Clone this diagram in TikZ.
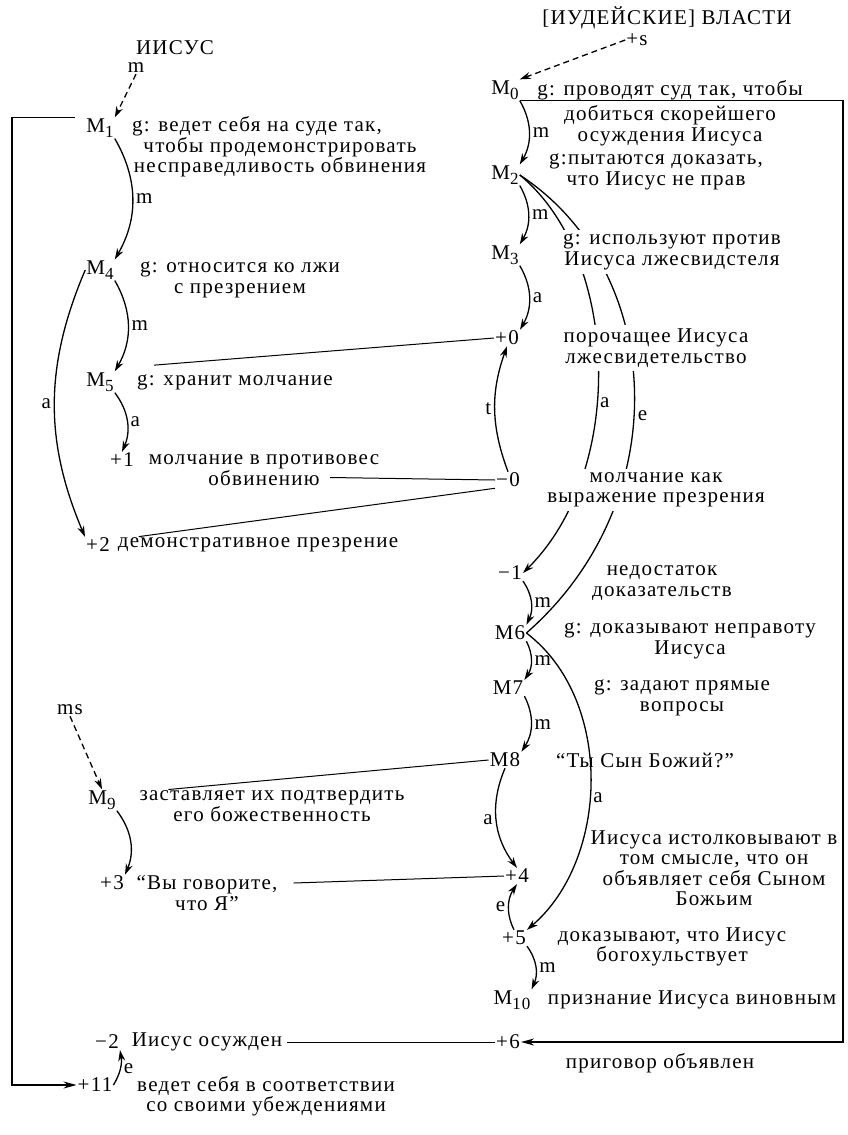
\documentclass[tikz,border=0pt]{standalone}
\usepackage{fontspec}
\setmainfont{Liberation Serif}[LetterSpace=6]
\usetikzlibrary{positioning, arrows.meta}
\newcommand{\mst}[1]{M\raisebox{-5pt}{\fontsize{17}{17}\selectfont #1}}

\begin{document}
\begin{tikzpicture}[x=1pt, y=-1pt,
    every node/.style={font=\fontsize{21}{20.5}\selectfont, inner sep=1pt},
    txt/.style={align=center},
    wtxt/.style={align=center, fill=white, inner sep=4pt},
    lbl/.style={inner sep=3pt},
    arr/.style={-{Stealth[length=11pt, width=7pt]}, line width=1.3pt},
    darr/.style={arr, dash pattern=on 6pt off 4pt},
    link/.style={line width=1pt},
    frame/.style={-{Stealth[length=13pt, width=7pt]}, line width=1.4pt}
  ]
  \useasboundingbox (0,0) rectangle (847,1135);

  % headers
  \node (hJ) at (175,48) {ИИСУС};
  \node (hA) at (667,18) {[ИУДЕЙСКИЕ] ВЛАСТИ};
  \node (mJ) at (136,68) {m};
  \node (sA) at (637,40) {+s};

  % left column: states
  \node (M1) at (100,128) {\mst{1}};
  \node (M4) at (100,270) {\mst{4}};
  \node (M5) at (100,382) {\mst{5}};
  \node (p1) at (122,460) {+1};
  \node (p2) at (98,545) {+2};
  \node (ms) at (70,710) {ms};
  \node (M9) at (102,800) {\mst{9}};
  \node (p3) at (112,883) {+3};
  \node (n2) at (107,1042) {−2};
  \node (p11) at (95,1085) {+11};

  % left column: texts
  \node[txt] (g1) at (280,147) {g: ведет себя на суде так,\hspace*{46pt}\\чтобы продемонстрировать\\несправедливость обвинения};
  \node[txt] (g4) at (240,280) {g: относится ко лжи\\с презрением};
  \node[txt] (g5) at (235,382) {g: хранит молчание};
  \node[txt] (r1) at (264,470) {молчание в противовес\\обвинению};
  \node[txt] (r2) at (258,545) {демонстративное презрение};
  \node[txt] (g9) at (272,806) {заставляет их подтвердить\\его божественность};
  \node[txt] (r3) at (207,893) {“Вы говорите,\\что Я”};
  \node[txt] (r4) at (207,1042) {Иисус осужден};
  \node[txt] (r11) at (266,1096) {ведет себя в соответствии\\со своими убеждениями};

  % right column: states
  \node (M0) at (505,90) {\mst{0}};
  \node (M2) at (505,175) {\mst{2}};
  \node (M3) at (505,255) {\mst{3}};
  \node (q0) at (507,338) {+0};
  \node (z0) at (508,480) {−0};
  \node (z1) at (510,573) {−1};
  \node (M6) at (510,633) {M6};
  \node (M7) at (508,688) {M7};
  \node (M8) at (505,760) {M8};
  \node (q4) at (517,876) {+4};
  \node (q5) at (514,938) {+5};
  \node (M10) at (512,1000) {\mst{10}};
  \node (q6) at (508,1042) {+6};

  % long arcs from M2, cut by the texts below
  \draw[arr] (M2.east) .. controls +(100,82) and +(104,-103) .. node[lbl, pos=0.58, right] {a} (z1.east);
  \draw[line width=1.3pt] (M2.east) .. controls +(145,95) and +(152,-133) .. node[lbl, pos=0.55, right] {e} (M6.east);

  % right column: texts
  \node[txt] (g0) at (670,113) {g: проводят суд так, чтобы\\[5pt]добиться скорейшего\\осуждения Иисуса};
  \node[txt] (g2) at (656,172) {g:пытаются доказать,\\что Иисус не прав};
  \node[wtxt] (g3) at (672,252) {g: используют против\\Иисуса лжесвидстеля};
  \node[wtxt] (d0) at (656,348) {порочащее Иисуса\\лжесвидетельство};
  \node[wtxt] (d1) at (656,490) {молчание как\\выражение презрения};
  \node[txt] (d2) at (662,583) {недостаток\\доказательств};
  \node[txt] (g6) at (690,641) {g: доказывают неправоту\\Иисуса};
  \node[txt] (g7) at (682,698) {g: задают прямые\\вопросы};
  \node[txt] (d3) at (645,760) {“Ты Сын Божий?”};
  \node[txt] (d4) at (714,868) {Иисуса истолковывают в\\том смысле, что он\\объявляет себя Сыном\\Божьим};
  \node[txt] (d5) at (672,947) {доказывают, что Иисус\\богохульствует};
  \node[txt] (d6) at (692,1000) {признание Иисуса виновным};
  \node[txt] (d7) at (660,1063) {приговор объявлен};

  % dashed entries
  \draw[darr] (mJ.south) -- (M1.north east);
  \draw[darr] (sA.west) -- (M0.north east);
  \draw[darr] (ms.south) -- (M9.north);

  % left arrows
  \draw[arr] (M1.south east) to[bend left=30] node[lbl, right] {m} (M4.north east);
  \draw[arr] (M4.south east) to[bend left=30] node[lbl, right] {m} (M5.north east);
  \draw[arr] (M5.south east) to[bend left=30] node[lbl, right] {a} (p1.north);
  \draw[arr] (M4.west) to[bend right=23] node[lbl, left] {a} (p2.north west);
  \draw[arr] (M9.south east) to[bend left=30] (p3.north east);
  \draw[arr] (p11.east) to[bend right=20] node[lbl, right] {e} (n2.south east);

  % right arrows
  \draw[arr] (M0.south east) to[bend left=30] node[lbl, right] {m} (M2.north east);
  \draw[arr] (M2.south east) to[bend left=30] node[lbl, right] {m} (M3.north east);
  \draw[arr] (M3.south east) to[bend left=30] node[lbl, right] {a} (q0.north east);
  \draw[arr] (z0.north) to[bend left=20] node[lbl, left] {t} (q0.south);
  \draw[arr] (z1.south east) to[bend left=30] node[lbl, right] {m} (M6.north east);
  \draw[arr] (M6.south east) to[bend left=30] node[lbl, right] {m} (M7.north east);
  \draw[arr] (M7.south east) to[bend left=30] node[lbl, right] {m} (M8.north east);
  \draw[arr] (M8.south) to[bend right=30] node[lbl, left] {a} (q4.north);
  \draw[arr] (q5.north) to[bend left=30] node[lbl, left] {e} (q4.south);
  \draw[arr] (q5.south east) to[bend left=30] node[lbl, right] {m} (M10.north east);
  \draw[arr] (M6.east) .. controls +(88,67) and +(82,-70) .. node[lbl, pos=0.55, right] {a} (q5.north east);

  % plain links between the columns
  \draw[link] ([xshift=18pt, yshift=8pt]g5.north west) -- (q0.west);
  \draw[link] ([xshift=66pt, yshift=9pt]r1.south) -- (z0.west);
  \draw[link] ([xshift=22pt]r2.north west) -- (z0.south west);
  \draw[link] ([xshift=30pt]g9.north west) -- (M8.west);
  \draw[link] ([xshift=15pt, yshift=10pt]r3.east) -- (q4.west);
  \draw[link, shorten <=4pt] (r4.east) -- (q6.west);

  % outer frames
  \coordinate (rc) at (843,1042);
  \coordinate (lc) at (12,1085);
  \draw[frame] (M0.south east) -| (rc) -- (q6.east);
  \draw[frame, shorten <=10pt] (M1.north west) -| (lc) -- (p11.west);
\end{tikzpicture}
\end{document}
